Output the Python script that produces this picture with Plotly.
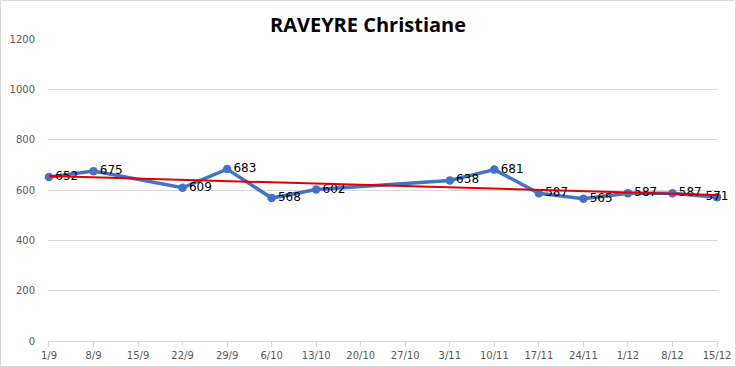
import numpy as np
import plotly.graph_objects as go

# Data
tick_labels = ["1/9", "8/9", "15/9", "22/9", "29/9", "6/10", "13/10", "20/10",
               "27/10", "3/11", "10/11", "17/11", "24/11", "1/12", "8/12", "15/12"]
point_dates = ["1/9", "8/9", "22/9", "29/9", "6/10", "13/10", "3/11", "10/11",
               "17/11", "24/11", "1/12", "8/12", "15/12"]
values = [652, 675, 609, 683, 568, 602, 638, 681, 587, 565, 587, 587, 571]
title_text = "RAVEYRE Christiane"

# positions: weekly ticks, 7 days apart
tick_days = [7 * i for i in range(len(tick_labels))]
day_of = dict(zip(tick_labels, tick_days))
x_days = [day_of[d] for d in point_dates]

# linear trend
coef = np.polyfit(x_days, values, 1)
trend_x = [tick_days[0], tick_days[-1]]
trend_y = [coef[0] * x + coef[1] for x in trend_x]

positions = ["middle right"] * (len(values) - 1) + ["middle center"]

fig = go.Figure()
fig.add_trace(go.Scatter(
    x=x_days, y=values, mode="lines+markers+text",
    line=dict(color="#4472C4", width=3.5),
    marker=dict(color="#4472C4", size=8.5),
    text=[str(v) for v in values], textposition=positions,
    textfont=dict(family="DejaVu Sans", size=12, color="#000000"),
    showlegend=False, cliponaxis=False,
))
fig.add_trace(go.Scatter(
    x=trend_x, y=trend_y, mode="lines",
    line=dict(color="#E00000", width=2),
    showlegend=False,
))

fig.update_layout(
    width=736, height=367,
    margin=dict(l=48, r=18, t=39, b=26, autoexpand=False),
    paper_bgcolor="white", plot_bgcolor="white",
    title=dict(text="<b>" + title_text + "</b>", x=0.5, xanchor="center",
               xref="container", y=1 - 25/367, yanchor="middle",
               font=dict(family="Open Sans", size=20, color="#000000")),
    xaxis=dict(
        range=[-0.15, 105.15], tickvals=tick_days, ticktext=tick_labels,
        automargin=False,
        showgrid=False, zeroline=False, showline=True, linecolor="#D9D9D9",
        ticks="outside", ticklen=5, tickcolor="#D9D9D9",
        tickfont=dict(family="DejaVu Sans", size=10, color="#595959"),
    ),
    yaxis=dict(
        range=[0, 1200], tickvals=[0, 200, 400, 600, 800, 1000, 1200],
        automargin=False,
        showgrid=True, gridcolor="#D9D9D9", zeroline=False, showline=False,
        ticks="", ticklabelstandoff=12,
        tickfont=dict(family="DejaVu Sans", size=10, color="#595959"),
    ),
    shapes=[dict(type="rect", xref="paper", yref="paper",
                 x0=-47.5/670, x1=1 + 17.5/670, y0=-25.5/302, y1=1 + 38.5/302,
                 line=dict(color="#D9D9D9", width=1))],
)

fig.write_html("out.html", config={"displayModeBar": False},
               post_script="document.body.style.margin='0';document.body.style.overflow='hidden';")
